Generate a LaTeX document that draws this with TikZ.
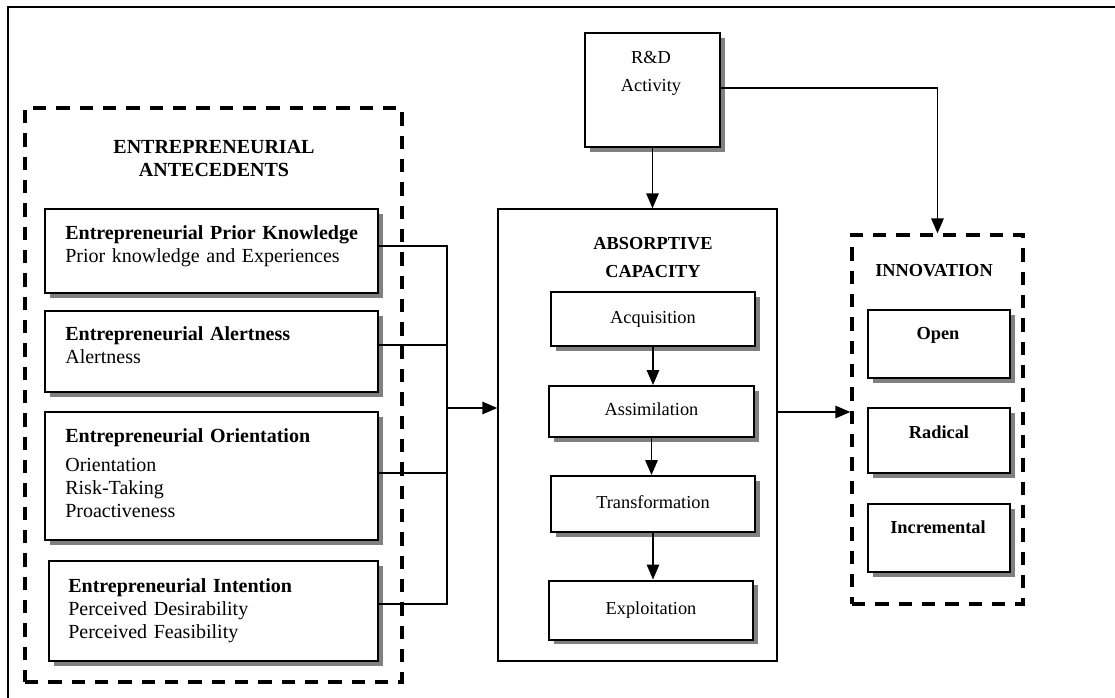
\documentclass[tikz,border=0pt]{standalone}
\usepackage{fontspec}
\setmainfont{Liberation Serif}
\usetikzlibrary{arrows.meta,shadows}
\begin{document}
\begin{tikzpicture}[x=0.6pt,y=-0.6pt,
  sbox/.style={draw, line width=1.2pt, fill=white, inner sep=0pt,
    drop shadow={shadow xshift=2.7pt, shadow yshift=-2.7pt, fill=black!50, opacity=1}},
  dbox/.style={draw, line width=2pt, dash pattern=on 8pt off 6pt, inner sep=0pt},
  ltxt/.style={inner sep=0pt, font=\fontsize{12}{14}\selectfont, align=left, anchor=base west, text width=200pt},
  ttl/.style={inner sep=0pt, align=center, anchor=base, text width=160pt},
  subbox/.style={sbox, font=\fontsize{11}{13}\selectfont, text height=7.5pt, text depth=2.4pt},
  arr/.style={line width=0.9pt, -{Triangle[length=9pt,width=7.5pt]}},
  conn/.style={line width=0.9pt},
]
\useasboundingbox (0,0) rectangle (1115,698);

% outer frame
\draw[line width=1.2pt] (8,698) -- (8,6.5) -- (1115,6.5);

% left dashed group
\node[dbox, minimum width=226.2pt, minimum height=344.4pt] (antb) at (213.5,395) {};
\node[ttl, font=\fontsize{12}{14}\selectfont\bfseries] (antt) at (214,153) {ENTREPRENEURIAL\\ANTECEDENTS};

% left boxes
\node[sbox, minimum width=199.8pt, minimum height=50.4pt] (pkb) at (211.5,251) {};
\node[sbox, minimum width=199.8pt, minimum height=48.6pt] (alb) at (211.5,351.5) {};
\node[sbox, minimum width=199.8pt, minimum height=76.8pt] (orb) at (211.5,476) {};
\node[sbox, minimum width=197.4pt, minimum height=60pt] (inb) at (213.5,611) {};

\node[ltxt] (pkt) at (65,239) {\textbf{Entrepreneurial Prior Knowledge}\\Prior knowledge and Experiences};
\node[ltxt] (alt) at (65,340) {\textbf{Entrepreneurial Alertness}\\Alertness};
\node[ltxt] (ort) at (65,442) {\textbf{Entrepreneurial Orientation}\\[3.4pt]Orientation\\Risk-Taking\\Proactiveness};
\node[ltxt] (int) at (68,592) {\textbf{Entrepreneurial Intention}\\Perceived Desirability\\Perceived Feasibility};

% R&D
\node[sbox, minimum width=81pt, minimum height=68.4pt] (rdb) at (652.5,90) {};
\node[ttl, text width=70pt, font=\fontsize{11}{16.8}\selectfont] (rdt) at (651,63) {R\&D\\Activity};

% absorptive capacity
\node[draw, line width=0.9pt, inner sep=0pt, minimum width=167.4pt, minimum height=271.2pt] (absb) at (637.5,435) {};
\node[ttl, text width=100pt, font=\fontsize{11}{16.8}\selectfont\bfseries] (abst) at (653,249) {ABSORPTIVE\\CAPACITY};
\node[subbox, minimum width=122.4pt, minimum height=32.4pt] (acq) at (653,319) {Acquisition};
\node[subbox, minimum width=123pt, minimum height=30.6pt] (asm) at (651.5,411.5) {Assimilation};
\node[subbox, minimum width=122.4pt, minimum height=33.6pt] (trf) at (653,504) {Transformation};
\node[subbox, minimum width=122.4pt, minimum height=35.4pt] (exp) at (651,610) {Exploitation};

% innovation
\node[dbox, minimum width=102.6pt, minimum height=221.4pt] (innb) at (937.5,419.5) {};
\node[ttl, text width=90pt, font=\fontsize{11}{13}\selectfont\bfseries] (innt) at (934,276) {INNOVATION};
\node[sbox, minimum width=85.2pt, minimum height=40.8pt] (opb) at (939,344) {};
\node[sbox, minimum width=85.2pt, minimum height=39pt] (rab) at (939,440.5) {};
\node[sbox, minimum width=85.2pt, minimum height=40.8pt] (icb) at (939,538) {};
\node[ttl, text width=80pt, font=\fontsize{11}{13}\selectfont\bfseries] (opt) at (938,339) {Open};
\node[ttl, text width=80pt, font=\fontsize{11}{13}\selectfont\bfseries] (rat) at (939,438) {Radical};
\node[ttl, text width=80pt, font=\fontsize{11}{13}\selectfont\bfseries] (ict) at (938,533) {Incremental};

% connectors
\coordinate (J) at (447,408);
\draw[conn] ([yshift=3pt]pkb.east) -| (J);
\draw[conn] ([yshift=3.9pt]alb.east) -| (J);
\draw[conn] ([yshift=1.8pt]orb.east) -| (J);
\draw[conn] ([yshift=4.2pt]inb.east) -| (J);
\draw[arr] (J) -- (J -| absb.west);

\draw[arr] (rdb.south) -- (rdb.south |- absb.north);
\draw[arr] ([yshift=1.2pt]rdb.east) -| (innb.north);
\draw[arr] ([yshift=13.8pt]absb.east) -- ([yshift=13.8pt]absb.east -| innb.west);

\draw[arr] (acq.south) -- (acq.south |- asm.north);
\draw[arr] (asm.south) -- (asm.south |- trf.north);
\draw[arr] (trf.south) -- (trf.south |- exp.north);
\end{tikzpicture}
\end{document}
